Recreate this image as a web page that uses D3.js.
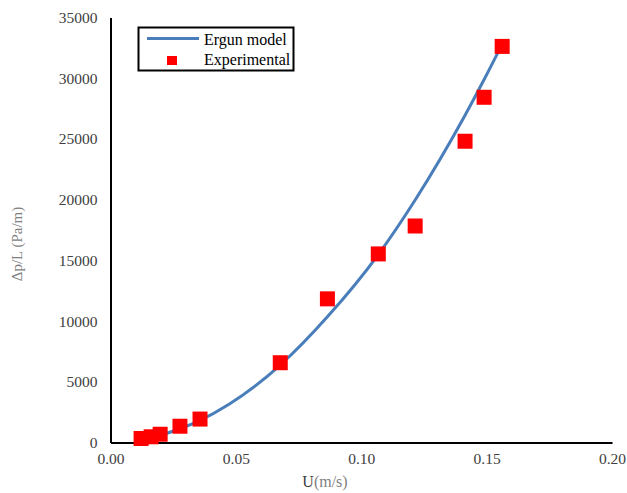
<!DOCTYPE html>
<html>
<head>
<meta charset="utf-8">
<script src="https://cdn.jsdelivr.net/npm/d3@7/dist/d3.min.js"></script>
<style>
  html, body { margin: 0; padding: 0; background: #fff; }
  svg, svg text { font-family: "Liberation Serif", "Times New Roman", serif !important; }
  svg { display: block; }
</style>
</head>
<body>
<svg id="chart" width="627" height="493"></svg>
<script>
// Superficial velocity U (m/s) of the measurements
const velocity = [0.0122, 0.0162, 0.0198, 0.0277, 0.0357, 0.0677, 0.0865, 0.1068, 0.1215, 0.1414, 0.1490, 0.1562];
// Measured pressure drop per unit length (Pa/m)
const experimental = [330, 470, 680, 1340, 1930, 6570, 11830, 15530, 17830, 24810, 28430, 32620];
// Ergun model prediction at the same velocities (Pa/m)
const ergunModel = [250, 415, 600, 1130, 1830, 6380, 10350, 15480, 19970, 26950, 29890, 32810];

const xTicks = [0, 0.05, 0.10, 0.15, 0.20];
const yTicks = [0, 5000, 10000, 15000, 20000, 25000, 30000, 35000];

const svg = d3.select("#chart");
const plotLeft = 110.5, plotRight = 612, plotTop = 17.5, plotBottom = 442.5;

const x = d3.scaleLinear().domain([0, 0.20]).range([plotLeft, plotRight]);
const y = d3.scaleLinear().domain([0, 35000]).range([plotBottom, plotTop]);

// Axes (no tick marks, labels only)
const xAxis = d3.axisBottom(x).tickValues(xTicks).tickSize(0).tickPadding(16)
  .tickFormat(d3.format(".2f"));
const yAxis = d3.axisLeft(y).tickValues(yTicks).tickSize(0).tickPadding(13)
  .tickFormat(d3.format("d"));

const gx = svg.append("g").attr("transform", `translate(0,${plotBottom})`).call(xAxis);
const gy = svg.append("g").attr("transform", `translate(${plotLeft},0)`).call(yAxis);

[gx, gy].forEach(g => {
  g.attr("font-family", null).attr("font-size", null);
  g.select(".domain").attr("stroke", "#000").attr("stroke-width", 2);
  g.selectAll("text")
    .style("font-size", "15.5px").attr("fill", "#404040");
});
gy.selectAll(".tick text").attr("dy", "0.32em");
gx.selectAll(".tick text").attr("dy", "0.35em");

// Model curve
const line = d3.line()
  .x((d, i) => x(velocity[i]))
  .y(d => y(d))
  .curve(d3.curveMonotoneX);

svg.append("path")
  .datum(ergunModel)
  .attr("d", line)
  .attr("fill", "none")
  .attr("stroke", "#4a7ebb")
  .attr("stroke-width", 3);

// Measured points
const ms = 15;
svg.append("g").selectAll("rect")
  .data(experimental)
  .join("rect")
  .attr("x", (d, i) => x(velocity[i]) - ms / 2)
  .attr("y", d => y(d) - ms / 2)
  .attr("width", ms)
  .attr("height", ms)
  .attr("fill", "#ff0000");

// Axis titles
const xt = svg.append("text")
  .attr("x", 325).attr("y", 487)
  .attr("text-anchor", "middle")
  .style("font-size", "16px");
xt.append("tspan").attr("fill", "#404040").text("U");
xt.append("tspan").attr("fill", "#7f7f7f").text("(m/s)");

svg.append("text")
  .attr("transform", "translate(22,244) rotate(-90)")
  .attr("text-anchor", "middle")
  .style("font-size", "15px")
  .attr("fill", "#7f7f7f")
  .text("Δp/L (Pa/m)");

// Legend
const lg = svg.append("g");
lg.append("rect")
  .attr("x", 138.5).attr("y", 27.5)
  .attr("width", 155).attr("height", 43)
  .attr("fill", "#fff").attr("stroke", "#000").attr("stroke-width", 2);
lg.append("line")
  .attr("x1", 147).attr("x2", 199).attr("y1", 38.5).attr("y2", 38.5)
  .attr("stroke", "#4a7ebb").attr("stroke-width", 3);
lg.append("rect")
  .attr("x", 167).attr("y", 56).attr("width", 10).attr("height", 9)
  .attr("fill", "#ff0000");
lg.append("text").attr("x", 204).attr("y", 44.5)
  .style("font-size", "16px").attr("fill", "#000").text("Ergun model");
lg.append("text").attr("x", 204).attr("y", 65)
  .style("font-size", "16px").attr("fill", "#000").text("Experimental");
</script>
</body>
</html>
